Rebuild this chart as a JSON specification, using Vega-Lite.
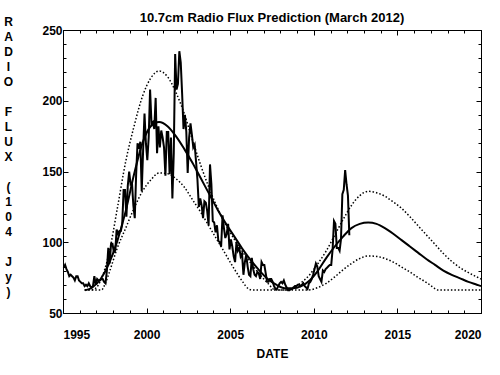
{
  "$schema": "https://vega.github.io/schema/vega-lite/v6.json",
  "width": 418,
  "height": 283,
  "autosize": {"type": "none"},
  "padding": {"left": 63, "top": 30, "right": 19, "bottom": 62},
  "background": "white",
  "title": {"text": "10.7cm Radio Flux Prediction (March 2012)", "font": "Liberation Sans", "fontSize": 13, "fontWeight": "bold", "color": "black", "offset": 8, "dy": 18, "anchor": "middle"},
  "config": {
    "view": {"stroke": "black", "strokeWidth": 1},
    "axis": {"labelFont": "Liberation Sans", "labelFontWeight": "bold", "labelFontSize": 12, "labelColor": "black", "titleFont": "Liberation Sans", "titleFontWeight": "bold", "titleFontSize": 12, "titleColor": "black", "tickColor": "black", "domain": false, "grid": false}
  },
  "datasets": {
    "obs": [
      {"t":1995.042,"f":82},{"t":1995.125,"f":84},{"t":1995.208,"f":81},{"t":1995.292,"f":79},{"t":1995.375,"f":76},{"t":1995.458,"f":77},{"t":1995.542,"f":76},{"t":1995.625,"f":75},{"t":1995.708,"f":73},{"t":1995.792,"f":76},{"t":1995.875,"f":76},{"t":1995.958,"f":73},
      {"t":1996.042,"f":72},{"t":1996.125,"f":71},{"t":1996.208,"f":71},{"t":1996.292,"f":69},{"t":1996.375,"f":70},{"t":1996.458,"f":69},{"t":1996.542,"f":71},{"t":1996.625,"f":69},{"t":1996.708,"f":68},{"t":1996.792,"f":69},{"t":1996.875,"f":76},{"t":1996.958,"f":70},
      {"t":1997.042,"f":74},{"t":1997.125,"f":73},{"t":1997.208,"f":73},{"t":1997.292,"f":74},{"t":1997.375,"f":74},{"t":1997.458,"f":72},{"t":1997.542,"f":71},{"t":1997.625,"f":80},{"t":1997.708,"f":96},{"t":1997.792,"f":85},{"t":1997.875,"f":99},{"t":1997.958,"f":99},
      {"t":1998.042,"f":93},{"t":1998.125,"f":94},{"t":1998.208,"f":109},{"t":1998.292,"f":106},{"t":1998.375,"f":108},{"t":1998.458,"f":108},{"t":1998.542,"f":113},{"t":1998.625,"f":137},{"t":1998.708,"f":137},{"t":1998.792,"f":118},{"t":1998.875,"f":140},{"t":1998.958,"f":150},
      {"t":1999.042,"f":141},{"t":1999.125,"f":142},{"t":1999.208,"f":126},{"t":1999.292,"f":117},{"t":1999.375,"f":148},{"t":1999.458,"f":170},{"t":1999.542,"f":166},{"t":1999.625,"f":171},{"t":1999.708,"f":136},{"t":1999.792,"f":165},{"t":1999.875,"f":191},{"t":1999.958,"f":170},
      {"t":2000.042,"f":158},{"t":2000.125,"f":174},{"t":2000.208,"f":208},{"t":2000.292,"f":184},{"t":2000.375,"f":185},{"t":2000.458,"f":180},{"t":2000.542,"f":202},{"t":2000.625,"f":163},{"t":2000.708,"f":182},{"t":2000.792,"f":167},{"t":2000.875,"f":179},{"t":2000.958,"f":174},
      {"t":2001.042,"f":167},{"t":2001.125,"f":147},{"t":2001.208,"f":178},{"t":2001.292,"f":178},{"t":2001.375,"f":148},{"t":2001.458,"f":174},{"t":2001.542,"f":131},{"t":2001.625,"f":163},{"t":2001.708,"f":233},{"t":2001.792,"f":208},{"t":2001.875,"f":212},{"t":2001.958,"f":235},
      {"t":2002.042,"f":227},{"t":2002.125,"f":205},{"t":2002.208,"f":180},{"t":2002.292,"f":190},{"t":2002.375,"f":178},{"t":2002.458,"f":149},{"t":2002.542,"f":174},{"t":2002.625,"f":184},{"t":2002.708,"f":176},{"t":2002.792,"f":167},{"t":2002.875,"f":169},{"t":2002.958,"f":157},
      {"t":2003.042,"f":144},{"t":2003.125,"f":125},{"t":2003.208,"f":131},{"t":2003.292,"f":126},{"t":2003.375,"f":117},{"t":2003.458,"f":129},{"t":2003.542,"f":128},{"t":2003.625,"f":122},{"t":2003.708,"f":112},{"t":2003.792,"f":155},{"t":2003.875,"f":141},{"t":2003.958,"f":115},
      {"t":2004.042,"f":114},{"t":2004.125,"f":107},{"t":2004.208,"f":112},{"t":2004.292,"f":101},{"t":2004.375,"f":100},{"t":2004.458,"f":97},{"t":2004.542,"f":119},{"t":2004.625,"f":110},{"t":2004.708,"f":103},{"t":2004.792,"f":106},{"t":2004.875,"f":113},{"t":2004.958,"f":95},
      {"t":2005.042,"f":102},{"t":2005.125,"f":97},{"t":2005.208,"f":90},{"t":2005.292,"f":86},{"t":2005.375,"f":100},{"t":2005.458,"f":94},{"t":2005.542,"f":96},{"t":2005.625,"f":90},{"t":2005.708,"f":92},{"t":2005.792,"f":77},{"t":2005.875,"f":86},{"t":2005.958,"f":91},
      {"t":2006.042,"f":83},{"t":2006.125,"f":77},{"t":2006.208,"f":76},{"t":2006.292,"f":89},{"t":2006.375,"f":81},{"t":2006.458,"f":77},{"t":2006.542,"f":76},{"t":2006.625,"f":79},{"t":2006.708,"f":78},{"t":2006.792,"f":74},{"t":2006.875,"f":86},{"t":2006.958,"f":84},
      {"t":2007.042,"f":84},{"t":2007.125,"f":78},{"t":2007.208,"f":72},{"t":2007.292,"f":72},{"t":2007.375,"f":74},{"t":2007.458,"f":74},{"t":2007.542,"f":72},{"t":2007.625,"f":69},{"t":2007.708,"f":67},{"t":2007.792,"f":67},{"t":2007.875,"f":69},{"t":2007.958,"f":71},
      {"t":2008.042,"f":72},{"t":2008.125,"f":71},{"t":2008.208,"f":73},{"t":2008.292,"f":70},{"t":2008.375,"f":68},{"t":2008.458,"f":66},{"t":2008.542,"f":66},{"t":2008.625,"f":67},{"t":2008.708,"f":67},{"t":2008.792,"f":68},{"t":2008.875,"f":69},{"t":2008.958,"f":69},
      {"t":2009.042,"f":70},{"t":2009.125,"f":70},{"t":2009.208,"f":69},{"t":2009.292,"f":70},{"t":2009.375,"f":71},{"t":2009.458,"f":69},{"t":2009.542,"f":68},{"t":2009.625,"f":67},{"t":2009.708,"f":71},{"t":2009.792,"f":72},{"t":2009.875,"f":74},{"t":2009.958,"f":77},
      {"t":2010.042,"f":81},{"t":2010.125,"f":85},{"t":2010.208,"f":83},{"t":2010.292,"f":76},{"t":2010.375,"f":74},{"t":2010.458,"f":72},{"t":2010.542,"f":80},{"t":2010.625,"f":79},{"t":2010.708,"f":81},{"t":2010.792,"f":82},{"t":2010.875,"f":83},{"t":2010.958,"f":84},
      {"t":2011.042,"f":84},{"t":2011.125,"f":95},{"t":2011.208,"f":115},{"t":2011.292,"f":113},{"t":2011.375,"f":96},{"t":2011.458,"f":96},{"t":2011.542,"f":94},{"t":2011.625,"f":102},{"t":2011.708,"f":134},{"t":2011.792,"f":137},{"t":2011.875,"f":151},{"t":2011.958,"f":141},
      {"t":2012.042,"f":133},{"t":2012.125,"f":105}
    ],
    "mid": [
      {"t":1996.3,"f":66},{"t":1996.75,"f":68},{"t":1997.25,"f":74},{"t":1997.75,"f":85},{"t":1998.25,"f":101},{"t":1998.75,"f":122},{"t":1999.25,"f":148},{"t":1999.75,"f":170},{"t":2000.25,"f":182},{"t":2000.75,"f":185},{"t":2001.25,"f":182},{"t":2001.75,"f":175},{"t":2002.25,"f":166},{"t":2002.75,"f":156},{"t":2003.25,"f":145},{"t":2003.75,"f":134},{"t":2004.25,"f":123},{"t":2004.75,"f":113},{"t":2005.25,"f":104},{"t":2005.75,"f":95},{"t":2006.25,"f":87},{"t":2006.75,"f":80},{"t":2007.25,"f":74},{"t":2007.75,"f":70},{"t":2008.25,"f":67.5},{"t":2008.75,"f":67.5},{"t":2009.25,"f":69},{"t":2009.75,"f":73},{"t":2010.25,"f":80},{"t":2010.75,"f":89},{"t":2011.25,"f":97},{"t":2011.75,"f":104},{"t":2012.25,"f":110},{"t":2012.75,"f":113},{"t":2013.25,"f":114},{"t":2013.75,"f":113},{"t":2014.25,"f":110},{"t":2014.75,"f":106},{"t":2015.25,"f":101.5},{"t":2015.75,"f":97},{"t":2016.25,"f":92.5},{"t":2016.75,"f":88},{"t":2017.25,"f":84},{"t":2017.75,"f":80},{"t":2018.25,"f":77},{"t":2018.75,"f":74.5},{"t":2019.25,"f":72},{"t":2019.75,"f":70},{"t":2020,"f":69}
    ],
    "hi": [
      {"t":1996.3,"f":66.3},{"t":1996.75,"f":66.5},{"t":1997.0,"f":68},{"t":1997.25,"f":73},{"t":1997.75,"f":92},{"t":1998.25,"f":124},{"t":1998.75,"f":157},{"t":1999.25,"f":182},{"t":1999.75,"f":203},{"t":2000.25,"f":216},{"t":2000.75,"f":221},{"t":2001.25,"f":217},{"t":2001.75,"f":206},{"t":2002.25,"f":191},{"t":2002.75,"f":172},{"t":2003.25,"f":154},{"t":2003.75,"f":138},{"t":2004.25,"f":124},{"t":2004.75,"f":112},{"t":2005.25,"f":102},{"t":2005.75,"f":93},{"t":2006.25,"f":85},{"t":2006.75,"f":77.5},{"t":2007.25,"f":71},{"t":2007.7,"f":66.3},{"t":2008.3,"f":66.3},{"t":2008.75,"f":68},{"t":2009.25,"f":71.5},{"t":2009.75,"f":77},{"t":2010.25,"f":85},{"t":2010.75,"f":94},{"t":2011.25,"f":105},{"t":2011.75,"f":116},{"t":2012.25,"f":126},{"t":2012.75,"f":133},{"t":2013.25,"f":136},{"t":2013.75,"f":135},{"t":2014.25,"f":132.5},{"t":2014.75,"f":128.5},{"t":2015.25,"f":124},{"t":2015.75,"f":118},{"t":2016.25,"f":111.5},{"t":2016.75,"f":105},{"t":2017.25,"f":98.5},{"t":2017.75,"f":92},{"t":2018.25,"f":86.5},{"t":2018.75,"f":82},{"t":2019.25,"f":78.5},{"t":2019.75,"f":75.5},{"t":2020,"f":74}
    ],
    "lo": [
      {"t":1996.3,"f":66.3},{"t":1997.3,"f":66.3},{"t":1997.5,"f":70},{"t":1997.75,"f":78},{"t":1998.25,"f":96},{"t":1998.75,"f":110},{"t":1999.25,"f":124},{"t":1999.75,"f":136},{"t":2000.25,"f":144},{"t":2000.75,"f":149},{"t":2001.25,"f":148.5},{"t":2001.75,"f":145},{"t":2002.25,"f":139},{"t":2002.75,"f":130},{"t":2003.25,"f":121},{"t":2003.75,"f":111},{"t":2004.25,"f":101},{"t":2004.75,"f":91},{"t":2005.25,"f":81},{"t":2005.75,"f":72},{"t":2006.1,"f":67},{"t":2006.3,"f":66.3},{"t":2009.7,"f":66.3},{"t":2010.25,"f":68},{"t":2010.75,"f":71},{"t":2011.25,"f":75.5},{"t":2011.75,"f":80.5},{"t":2012.25,"f":85},{"t":2012.75,"f":88.5},{"t":2013.25,"f":90.3},{"t":2013.75,"f":90},{"t":2014.25,"f":88.5},{"t":2014.75,"f":86},{"t":2015.25,"f":82.5},{"t":2015.75,"f":79},{"t":2016.25,"f":75},{"t":2016.75,"f":71.5},{"t":2017.1,"f":68.5},{"t":2017.4,"f":66.3},{"t":2020,"f":66.3}
    ]
  },
  "layer": [
    {
      "data": {"name": "hi"},
      "mark": {"type": "line", "color": "black", "strokeWidth": 1.5, "strokeDash": [1.5, 2], "interpolate": "monotone"},
      "encoding": {
        "x": {"field": "t", "type": "quantitative", "scale": {"domain": [1995, 2020], "nice": false, "zero": false},
              "axis": {"orient": "bottom", "values": [1995,1996,1997,1998,1999,2000,2001,2002,2003,2004,2005,2006,2007,2008,2009,2010,2011,2012,2013,2014,2015,2016,2017,2018,2019,2020], "labels": false, "tickSize": -3, "title": null}},
        "y": {"field": "f", "type": "quantitative", "scale": {"domain": [50, 250], "nice": false, "zero": false},
              "axis": {"orient": "left", "values": [60,70,80,90,110,120,130,140,160,170,180,190,210,220,230,240], "labels": false, "tickSize": -3, "title": null}}
      }
    },
    {
      "data": {"name": "lo"},
      "mark": {"type": "line", "color": "black", "strokeWidth": 1.5, "strokeDash": [1.5, 2], "interpolate": "monotone"},
      "encoding": {
        "x": {"field": "t", "type": "quantitative",
              "axis": {"orient": "top", "values": [1995,1996,1997,1998,1999,2000,2001,2002,2003,2004,2005,2006,2007,2008,2009,2010,2011,2012,2013,2014,2015,2016,2017,2018,2019,2020], "labels": false, "tickSize": -3, "title": null}},
        "y": {"field": "f", "type": "quantitative",
              "axis": {"orient": "right", "values": [60,70,80,90,110,120,130,140,160,170,180,190,210,220,230,240], "labels": false, "tickSize": -3, "title": null}}
      }
    },
    {
      "data": {"name": "mid"},
      "mark": {"type": "line", "color": "black", "strokeWidth": 2, "interpolate": "monotone"},
      "encoding": {
        "x": {"field": "t", "type": "quantitative",
              "axis": {"orient": "top", "values": [1995,2000,2005,2010,2015,2020], "labels": false, "tickSize": -5, "title": null}},
        "y": {"field": "f", "type": "quantitative",
              "axis": {"orient": "right", "values": [50,100,150,200,250], "labels": false, "tickSize": -5, "title": null}}
      }
    },
    {
      "data": {"name": "obs"},
      "mark": {"type": "line", "color": "black", "strokeWidth": 2},
      "encoding": {
        "x": {"field": "t", "type": "quantitative",
              "axis": {"orient": "bottom", "values": [1995,2000,2005,2010,2015,2020], "format": "d", "tickSize": -5, "labelPadding": 21, "title": "DATE", "titlePadding": 8}},
        "y": {"field": "f", "type": "quantitative",
              "axis": {"orient": "left", "values": [50,100,150,200,250], "format": "d", "tickSize": -5, "labelPadding": 6,
                       "title": ["R","A","D","I","O","\u200b","F","L","U","X","\u200b","(","1","0","4","\u200b","J","y",")"],
                       "titleAngle": 0, "titleAlign": "center", "titleBaseline": "top", "titleX": -55, "titleY": -14, "titleLineHeight": 15}}
      }
    }
  ],
  "resolve": {"axis": {"x": "independent", "y": "independent"}}
}
